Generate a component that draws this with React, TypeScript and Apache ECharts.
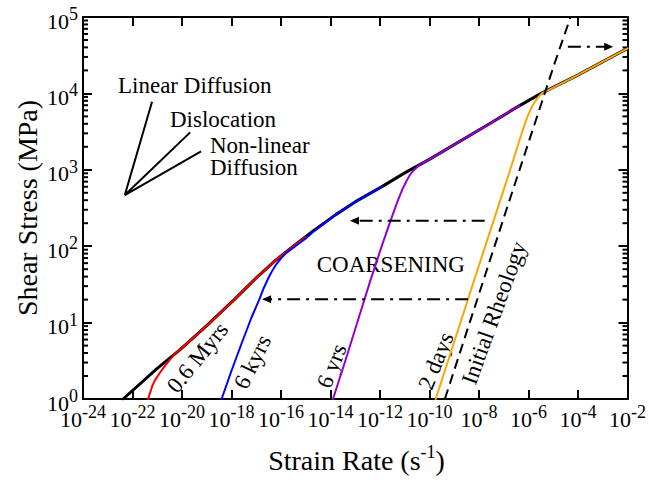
import React, { useEffect, useRef } from "react";
import * as echarts from "echarts";

// All values are base-10 exponents (log10 of strain rate in s^-1, log10 of stress in MPa)
const xRange = [-24, -2];
const yRange = [0, 5];
const xTickStep = 2;
const yTickStep = 1;
const yDecades = [0, 1, 2, 3, 4];
const minorMultipliers = [2, 3, 4, 5, 6, 7, 8, 9];

// steady-state composite rheology (black)
const steadyX = [-22.38, -21.0, -20.1, -19.0, -17.89, -17.02, -16.2, -15.54, -14.7, -13.8, -12.9, -11.92, -11.0, -10.04, -8.0, -6.36, -5.49, -4.01, -2.0];
const steadyY = [0, 0.40, 0.64, 0.96, 1.30, 1.58, 1.82, 1.99, 2.20, 2.41, 2.60, 2.78, 2.96, 3.13, 3.52, 3.84, 4.00, 4.24, 4.59];

// 0.6 Myrs (red)
const myrsX = [-21.37, -21.3, -21.2, -21.1, -20.9, -20.7, -20.5, -20.3, -20.1, -19.0, -17.89, -17.02, -16.2, -15.54, -15.0];
const myrsY = [0, 0.07, 0.17, 0.24, 0.34, 0.43, 0.51, 0.585, 0.64, 0.96, 1.30, 1.58, 1.82, 1.99, 2.12];

// 6 kyrs (blue)
const kyrsX = [-18.40, -18.0, -17.6, -17.2, -16.88, -16.7, -16.5, -16.35, -16.2, -16.0, -15.8, -15.54, -15.0, -14.7, -13.8, -12.9, -11.92];
const kyrsY = [0, 0.37, 0.72, 1.06, 1.30, 1.45, 1.59, 1.68, 1.76, 1.84, 1.91, 1.97, 2.10, 2.19, 2.41, 2.60, 2.78];

// 6 yrs (purple)
const yrsX = [-13.90, -13.4, -12.9, -12.4, -11.9, -11.5, -11.3, -11.1, -10.95, -10.8, -10.65, -10.45, -10.04, -8.0, -6.36];
const yrsY = [0, 0.50, 1.02, 1.54, 2.03, 2.40, 2.58, 2.74, 2.84, 2.93, 2.99, 3.05, 3.13, 3.52, 3.84];

// 2 days (orange)
const daysX = [-9.75, -8.0, -7.0, -6.7, -6.4, -6.2, -6.05, -5.9, -5.75, -5.6, -5.46, -4.01, -2.0];
const daysY = [0, 1.75, 2.74, 3.04, 3.35, 3.55, 3.69, 3.80, 3.89, 3.955, 4.0, 4.24, 4.59];

// Initial rheology (dashed)
const initX = [-9.38, -6.9, -4.95, -4.3];
const initY = [0, 2.47, 4.39, 5.0];

// coarsening arrows: [start x, end x, y]
const arrowUpper = [-7.77, -13.03, 2.334];
const arrowLower = [-8.44, -16.58, 1.305];
const arrowTop = [-4.41, -2.76, 4.611];

// slope indicator lines: vertex and three ends
const slopeVertex = [-22.31, 2.67];
const slopeLinear = [-21.21, 3.89];
const slopeDisloc = [-19.67, 3.49];
const slopeNonlin = [-19.23, 3.24];

const FONT = "Liberation Serif";

const zip = (xs: number[], ys: number[]) => xs.map((x, i) => [x, ys[i]]);

const minorTicks: number[][] = [];
yDecades.forEach((d) =>
  minorMultipliers.forEach((m) => minorTicks.push([xRange[0], d + Math.log10(m)]))
);

const labelRich = {
  b: { fontSize: 22, fontFamily: FONT, color: "#000", lineHeight: 22, padding: [8, 0, 0, 0] },
  sup: { fontSize: 18, fontFamily: FONT, color: "#000", lineHeight: 24, verticalAlign: "top" },
};
const powFormatter = (v: number) => "{b|10}{sup|" + v + "}";

const axisCommon = {
  type: "value",
  splitLine: { show: false },
  axisLine: { show: true, onZero: false, lineStyle: { color: "#000", width: 2 } },
  axisTick: { show: true, inside: true, length: 9, lineStyle: { color: "#000", width: 2 } },
};

const curve = (name: string, xs: number[], ys: number[], color: string, width: number) => ({
  name,
  type: "line",
  data: zip(xs, ys),
  showSymbol: false,
  symbol: "none",
  smooth: false,
  lineStyle: { color, width, join: "round", cap: "round" },
  silent: true,
});

const arrow = (a: number[], rot: number) => ({
  type: "line",
  data: [
    [a[0], a[2]],
    { value: [a[1], a[2]], symbol: "triangle", symbolSize: [8, 9], symbolRotate: rot },
  ],
  symbol: "none",
  showSymbol: true,
  itemStyle: { color: "#000" },
  lineStyle: { color: "#000", width: 2, type: [13, 6, 3, 6] },
  silent: true,
});

const txt = (text: string, x: number, y: number, align: string, rotDeg = 0, size = 23) => ({
  type: "text",
  x,
  y,
  rotation: (rotDeg * Math.PI) / 180,
  style: {
    text,
    fontSize: size,
    fontFamily: FONT,
    fill: "#000",
    align,
    verticalAlign: "middle",
    textAlign: align,
    textVerticalAlign: "middle",
  },
  silent: true,
});

const tickLabel = (margin: number) => ({
  margin,
  fontSize: 22,
  fontFamily: FONT,
  color: "#000",
  formatter: powFormatter,
  rich: labelRich,
});

const option = {
  animation: false,
  backgroundColor: "#fff",
  grid: { left: 83, right: 19, top: 17, bottom: 85, containLabel: false },
  xAxis: [
    {
      ...axisCommon,
      position: "bottom",
      min: xRange[0],
      max: xRange[1],
      interval: xTickStep,
      axisLabel: tickLabel(4),
    },
    {
      ...axisCommon,
      position: "top",
      min: xRange[0],
      max: xRange[1],
      interval: xTickStep,
      axisLabel: { show: false },
    },
  ],
  yAxis: [
    {
      ...axisCommon,
      position: "left",
      min: yRange[0],
      max: yRange[1],
      interval: yTickStep,
      axisLabel: tickLabel(5),
    },
    {
      ...axisCommon,
      position: "right",
      min: yRange[0],
      max: yRange[1],
      interval: yTickStep,
      axisLabel: { show: false },
    },
  ],
  series: [
    {
      type: "custom",
      data: minorTicks,
      silent: true,
      renderItem: (params: any, api: any) => {
        const y = api.value(1);
        const pl = api.coord([xRange[0], y]);
        const pr = api.coord([xRange[1], y]);
        return {
          type: "group",
          children: [
            { type: "line", shape: { x1: pl[0], y1: pl[1], x2: pl[0] + 5, y2: pl[1] }, style: { stroke: "#000", lineWidth: 2 } },
            { type: "line", shape: { x1: pr[0] - 5, y1: pr[1], x2: pr[0], y2: pr[1] }, style: { stroke: "#000", lineWidth: 2 } },
          ],
        };
      },
    },
    {
      type: "line",
      data: [slopeLinear, slopeVertex, slopeDisloc, slopeVertex, slopeNonlin],
      showSymbol: false,
      symbol: "none",
      lineStyle: { color: "#000", width: 2 },
      silent: true,
    },
    curve("steady", steadyX, steadyY, "#000", 3),
    curve("0.6 Myrs", myrsX, myrsY, "#ff0000", 2),
    curve("6 kyrs", kyrsX, kyrsY, "#0000ff", 2),
    curve("6 yrs", yrsX, yrsY, "#9400d3", 2),
    curve("2 days", daysX, daysY, "#ffa500", 2),
    {
      type: "line",
      data: zip(initX, initY),
      showSymbol: false,
      symbol: "none",
      lineStyle: { color: "#000", width: 2, type: [10, 6] },
      silent: true,
    },
    arrow(arrowUpper, 90),
    arrow(arrowLower, 90),
    arrow(arrowTop, -90),
  ],
  graphic: [
    txt("Linear Diffusion", 118, 85.5, "left"),
    txt("Dislocation", 170, 119.5, "left"),
    txt("Non-linear", 210, 145, "left"),
    txt("Diffusion", 210, 167.2, "left"),
    txt("COARSENING", 316.7, 264, "left"),
    txt("0.6 Myrs", 197.5, 357.5, "center", 51),
    txt("6 kyrs", 252.5, 362, "center", 64),
    txt("6 yrs", 331.7, 366, "center", 68),
    txt("2 days", 436, 361, "center", 68),
    txt("Initial Rheology", 494, 313, "center", 70),
    {
      type: "text",
      x: 27,
      y: 208,
      rotation: Math.PI / 2,
      style: {
        text: "Shear Stress (MPa)",
        fontSize: 28,
        fontFamily: FONT,
        fill: "#000",
        align: "center",
        verticalAlign: "middle",
        textAlign: "center",
        textVerticalAlign: "middle",
      },
      silent: true,
    },
    {
      type: "text",
      x: 356.5,
      y: 456.5,
      style: {
        text: "{n|Strain Rate (s}{sup|-1}{n|)}",
        rich: {
          n: { fontSize: 28, fontFamily: FONT, color: "#000", lineHeight: 28, padding: [8, 0, 0, 0] },
          sup: { fontSize: 18, fontFamily: FONT, color: "#000", lineHeight: 18, verticalAlign: "top" },
        },
        fontSize: 28,
        fontFamily: FONT,
        fill: "#000",
        align: "center",
        verticalAlign: "middle",
        textAlign: "center",
        textVerticalAlign: "middle",
      },
      silent: true,
    },
  ],
};

export default function App() {
  const ref = useRef<HTMLDivElement>(null);
  useEffect(() => {
    if (!ref.current) return;
    const chart = echarts.init(ref.current, null, { renderer: "svg" });
    chart.setOption(option as any);
    return () => chart.dispose();
  }, []);
  return (
    <div
      ref={ref}
      style={{ position: "fixed", left: 0, top: 0, width: 649, height: 484, background: "#fff" }}
    />
  );
}
